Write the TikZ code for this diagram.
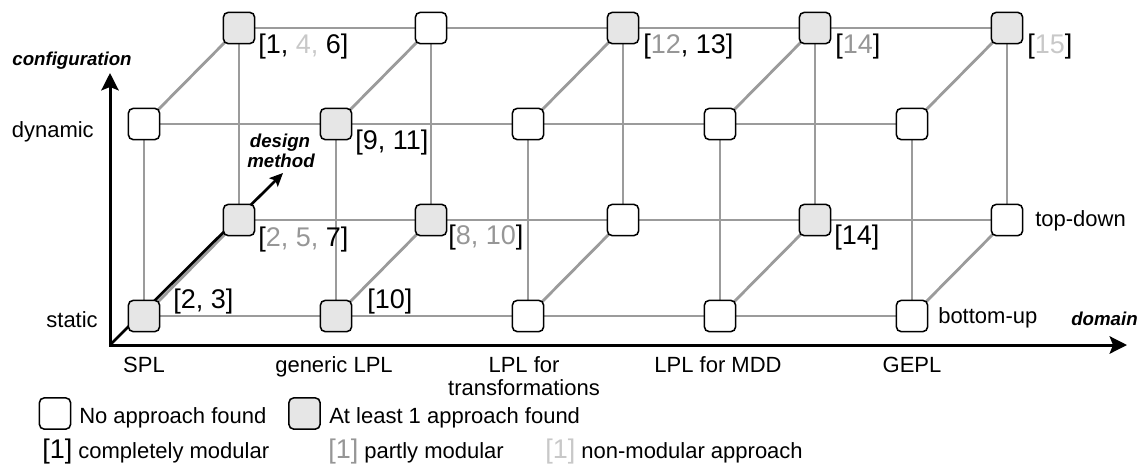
\documentclass[tikz,border=0pt]{standalone}
\usepackage{fontspec}
\setmainfont{Liberation Sans}
\usetikzlibrary{arrows.meta,backgrounds}

\definecolor{gridgray}{RGB}{155,155,155}
\definecolor{boxfill}{RGB}{230,230,230}
\definecolor{partgray}{RGB}{150,150,150}
\definecolor{nongray}{RGB}{200,200,200}

\newcommand{\reffont}{\fontsize{20.25pt}{24pt}\selectfont}
\newcommand{\partmod}[1]{\textcolor{partgray}{#1}}
\newcommand{\nonmod}[1]{\textcolor{nongray}{#1}}

\begin{document}
\begin{tikzpicture}[x=0.75pt,y=-0.75pt,
  cell/.style={draw=black, line width=1.15pt, rounded corners=3.75pt,
    minimum width=23.5pt, minimum height=23.5pt, inner sep=0pt},
  gridline/.style={draw=gridgray, line width=2.1pt},
  txt/.style={font=\fontsize{16.5pt}{20pt}\selectfont, inner sep=0pt},
  ref/.style={font=\reffont, inner sep=0pt, anchor=base west},
  axlabel/.style={font=\fontsize{14pt}{17pt}\selectfont\bfseries\itshape, inner sep=0pt, anchor=base},
  axis/.style={line width=2.25pt, {Stealth[length=13pt,width=13pt,inset=2.5pt]}-{Stealth[length=13pt,width=13pt,inset=2.5pt]}},
  designarrow/.style={line width=2pt, -{Stealth[length=10pt,width=9pt,inset=2pt]}},
]
\useasboundingbox (0,0) rectangle (1148,465);

% cube cells: F = front (bottom-up), B = back (top-down); s = static, d = dynamic
\foreach \c/\fs/\fd/\bs/\bd in {0/boxfill/white/boxfill/boxfill,
                                1/boxfill/boxfill/boxfill/white,
                                2/white/white/white/boxfill,
                                3/white/white/boxfill/boxfill,
                                4/white/white/white/boxfill} {
  \node[cell, fill=\fs] (Fs\c) at ({144+192*\c},316) {};
  \node[cell, fill=\fd] (Fd\c) at ({144+192*\c},124) {};
  \node[cell, fill=\bs] (Bs\c) at ({239+192*\c},220) {};
  \node[cell, fill=\bd] (Bd\c) at ({239+192*\c},28) {};
}

% axes
\coordinate (O) at (110,345);
\coordinate (Ytip) at (110,73);
\coordinate (Xtip) at (1127,345);
\coordinate (Dtip) at (283,173);
\draw[axis] (Ytip) -- (O) -- (Xtip);

% grid edges and the design-method axis behind the cells
\begin{scope}[on background layer]
  \foreach \c in {0,...,4} {
    \draw[gridline] (Fs\c.center) -- (Fd\c.center);
    \draw[gridline] (Bs\c.center) -- (Bd\c.center);
    \draw[gridline] (Fs\c.center) -- (Bs\c.center);
    \draw[gridline] (Fd\c.center) -- (Bd\c.center);
  }
  \draw[gridline] (Fs0.center) -- (Fs4.center);
  \draw[gridline] (Fd0.center) -- (Fd4.center);
  \draw[gridline] (Bs0.center) -- (Bs4.center);
  \draw[gridline] (Bd0.center) -- (Bd4.center);
  \draw[designarrow] (O) -- (Dtip);
\end{scope}

% references
\node[ref] (r-bd0) at (258,53) {[1, \nonmod{4,} 6]};
\node[ref] (r-bd2) at (643,53) {[\partmod{12}, 13]};
\node[ref] (r-bd3) at (835,53) {[\partmod{14}]};
\node[ref] (r-bd4) at (1027,53) {[\nonmod{15}]};
\node[ref] (r-fd1) at (355,149) {[9, 11]};
\node[ref] (r-bs0) at (258,246) {[\partmod{2, 5,} 7]};
\node[ref] (r-bs1) at (448,244) {[\partmod{8, 10}]};
\node[ref] (r-bs3) at (834,244) {[14]};
\node[ref] (r-fs0) at (173,308) {[2, 3]};
\node[ref] (r-fs1) at (367,308) {[10]};

% axis labels
\node[axlabel] (lab-conf) at (72,65) {configuration};
\node[axlabel] (lab-dm1) at (280,147) {design};
\node[axlabel] (lab-dm2) at (281,167) {method};
\node[axlabel, anchor=base west] (lab-domain) at (1071,325) {domain};

\node[txt, anchor=base east] (lab-dyn) at (94,137) {dynamic};
\node[txt, anchor=base east] (lab-stat) at (98,327) {static};
\node[txt, anchor=base west] (lab-td) at (1035,226) {top-down};
\node[txt, anchor=base west] (lab-bu) at (938,323) {bottom-up};

% domain categories
\node[txt, anchor=base] (lab-spl) at (144,372) {SPL};
\node[txt, anchor=base] (lab-gen) at (334,372) {generic LPL};
\node[txt, anchor=base] (lab-tr1) at (524,372) {LPL for};
\node[txt, anchor=base] (lab-tr2) at (524,395) {transformations};
\node[txt, anchor=base] (lab-mdd) at (718,372) {LPL for MDD};
\node[txt, anchor=base] (lab-gepl) at (912,372) {GEPL};

% legend
\node[cell, fill=white] (leg-empty) at (55,413.5) {};
\node[txt, anchor=base west] (leg-empty-t) at (79,423) {No approach found};
\node[cell, fill=boxfill] (leg-found) at (304.5,413.5) {};
\node[txt, anchor=base west] (leg-found-t) at (329,423) {At least 1 approach found};
\node[txt, anchor=base west] (leg-full) at (42,458) {{\reffont[1]} completely modular};
\node[txt, anchor=base west] (leg-part) at (328,458) {\partmod{\reffont[1]} partly modular};
\node[txt, anchor=base west] (leg-non) at (545,458) {\nonmod{\reffont[1]} non-modular approach};
\end{tikzpicture}
\end{document}
